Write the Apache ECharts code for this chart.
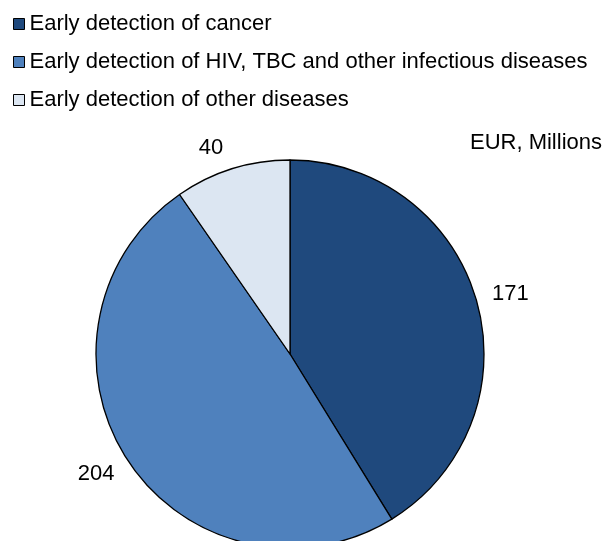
<!DOCTYPE html>
<html>
<head>
<meta charset="utf-8">
<script src="https://cdn.jsdelivr.net/npm/echarts@6/dist/echarts.min.js"></script>
<style>
html,body{margin:0;padding:0;background:#fff;}
#c{width:604px;height:541px;}
</style>
</head>
<body>
<div id="c"></div>
<script>
const categories = [
  'Early detection of cancer',
  'Early detection of HIV, TBC and other infectious diseases',
  'Early detection of other diseases'
];
const values = [171, 204, 40];
const colors = ['#1F497D', '#4F81BD', '#DCE6F2'];
const unitLabel = 'EUR, Millions';

// small label nudges to mimic the original label placement
const labelNudge = [[1, 2], [-3, -5], [-11, 12]];

const FONT = '"Liberation Sans", Arial, sans-serif';
const chart = echarts.init(document.getElementById('c'), null, {renderer: 'canvas'});
chart.setOption({
  animation: false,
  backgroundColor: '#ffffff',
  title: {
    text: unitLabel,
    right: 2,
    top: 132,
    padding: 0,
    textStyle: {fontFamily: FONT, fontSize: 22, fontWeight: 'normal', color: '#000'}
  },
  legend: {
    orient: 'vertical',
    left: 13,
    top: 13,
    padding: 0,
    itemWidth: 11,
    itemHeight: 11,
    itemGap: 16,
    icon: 'rect',
    itemStyle: {borderColor: '#000', borderWidth: 1},
    textStyle: {fontFamily: FONT, fontSize: 22, color: '#000', lineHeight: 22},
    data: categories
  },
  series: [{
    type: 'pie',
    center: [290, 354],
    radius: 194,
    startAngle: 90,
    clockwise: true,
    data: categories.map((n, i) => ({
      name: n,
      value: values[i],
      itemStyle: {color: colors[i]},
      label: {offset: labelNudge[i]}
    })),
    itemStyle: {borderColor: '#000', borderWidth: 1.3},
    label: {
      show: true,
      position: 'outside',
      formatter: '{c}',
      fontFamily: FONT,
      fontSize: 22,
      color: '#000',
      distanceToLabelLine: 0,
      alignTo: 'none'
    },
    labelLine: {show: false, length: 34, length2: 0},
    labelLayout: {align: 'center', verticalAlign: 'middle'},
    emphasis: {disabled: true}
  }]
});
</script>
</body>
</html>
